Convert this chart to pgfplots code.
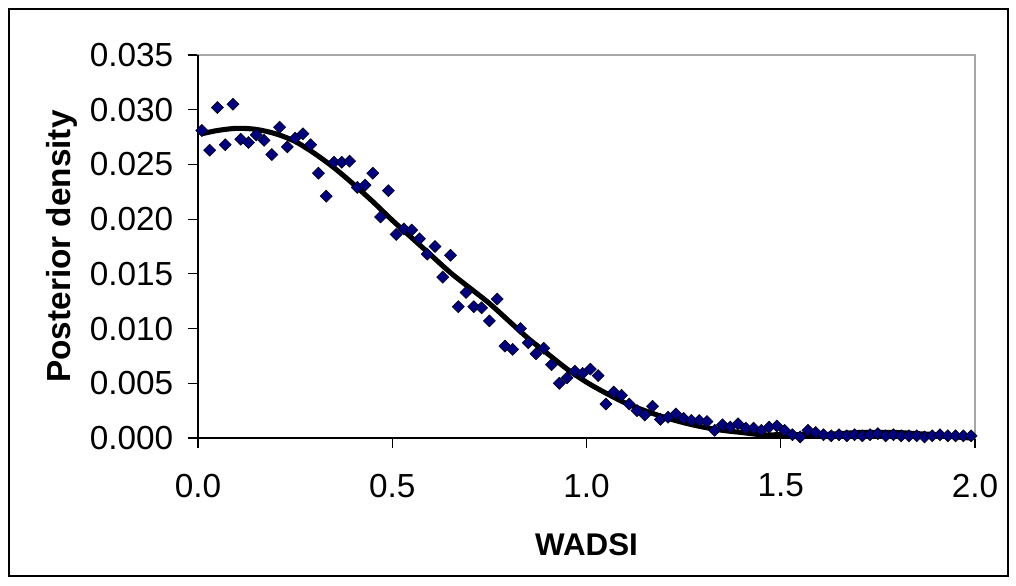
\documentclass[border=0pt]{standalone}
\usepackage{pgfplots}
\pgfplotsset{compat=1.18}
\usepackage{fontspec}
\setmainfont{Liberation Sans}
\definecolor{navy}{RGB}{0,0,128}
\begin{document}
\begin{tikzpicture}
\path[use as bounding box] (0pt,0pt) rectangle (762pt,438.75pt);
\draw[black, line width=1pt] (6.75pt,6.75pt) rectangle (756pt,432pt);
\begin{axis}[
  at={(148.5pt,110.25pt)}, anchor=south west,
  scale only axis, width=582.75pt, height=287.25pt,
  xmin=0, xmax=2, ymin=0, ymax=0.035,
  clip=false,
  axis line style={draw=gray!70, line width=1.2pt},
  xtick={0,0.5,1,1.5,2},
  ytick={0,0.005,0.01,0.015,0.02,0.025,0.03,0.035},
  tick align=outside, tick pos=left,
  major tick length=7.5pt,
  tick style={black, line width=0.9pt},
  scaled y ticks=false,
  /pgf/number format/assume math mode=true,
  xticklabel style={/pgf/number format/.cd, fixed, fixed zerofill, precision=1, /tikz/.cd, yshift=-16pt},
  yticklabel style={/pgf/number format/.cd, fixed, fixed zerofill, precision=3, /tikz/.cd, xshift=-7.5pt},
  ticklabel style={font=\fontsize{25}{29}\selectfont},
  xlabel={\textbf{WADSI}},
  ylabel={\textbf{Posterior density}},
  xlabel style={font=\fontsize{23.5}{27}\selectfont, at={(axis description cs:0.5,-0.2794)}, anchor=center},
  ylabel style={font=\fontsize{25}{29}\selectfont, at={(axis description cs:-0.175,0.5)}, anchor=center},
]
\draw[black, line width=1pt] (axis cs:0,0.035) -- (axis cs:0,0) -- (axis cs:2,0);
\addplot[only marks, mark=square*, mark size=3.2pt, mark options={rotate=45, fill=navy, draw=none}] coordinates {
(0.01,0.0281) (0.03,0.0263) (0.05,0.0302) (0.07,0.0268) (0.09,0.0305)
(0.11,0.0273) (0.13,0.0270) (0.15,0.0277) (0.17,0.0272) (0.19,0.0259)
(0.21,0.0284) (0.23,0.0266) (0.25,0.0274) (0.27,0.0278) (0.29,0.0268)
(0.31,0.0242) (0.33,0.0221) (0.35,0.0252) (0.37,0.0252) (0.39,0.0253)
(0.41,0.0229) (0.43,0.0231) (0.45,0.0242) (0.47,0.0202) (0.49,0.0226)
(0.51,0.0186) (0.53,0.0191) (0.55,0.0190) (0.57,0.0182) (0.59,0.0168)
(0.61,0.0175) (0.63,0.0147) (0.65,0.0167) (0.67,0.0120) (0.69,0.0133)
(0.71,0.0120) (0.73,0.0119) (0.75,0.0107) (0.77,0.0127) (0.79,0.0084)
(0.81,0.0081) (0.83,0.0100) (0.85,0.0087) (0.87,0.0077) (0.89,0.0082)
(0.91,0.0067) (0.93,0.0050) (0.95,0.0055) (0.97,0.0061) (0.99,0.0059)
(1.01,0.0063) (1.03,0.0057) (1.05,0.0031) (1.07,0.0042) (1.09,0.0039)
(1.11,0.0031) (1.13,0.0025) (1.15,0.0021) (1.17,0.0029) (1.19,0.0017)
(1.21,0.0019) (1.23,0.0022) (1.25,0.0018) (1.27,0.0016) (1.29,0.0016)
(1.31,0.0015) (1.33,0.0007) (1.35,0.0012) (1.37,0.0010) (1.39,0.0013)
(1.41,0.0009) (1.43,0.0009) (1.45,0.0007) (1.47,0.0010) (1.49,0.0011)
(1.51,0.0007) (1.53,0.0003) (1.55,0.0001) (1.57,0.0007) (1.59,0.0005)
(1.61,0.0003) (1.63,0.0002) (1.65,0.0003) (1.67,0.0002) (1.69,0.0003)
(1.71,0.0002) (1.73,0.0003) (1.75,0.0004) (1.77,0.0002) (1.79,0.0003)
(1.81,0.0002) (1.83,0.0002) (1.85,0.0002) (1.87,0.0001) (1.89,0.0002)
(1.91,0.0003) (1.93,0.0002) (1.95,0.0002) (1.97,0.0002) (1.99,0.0002)
};
\addplot[black, line width=3.8pt, smooth, no marks] coordinates {
(0.01,0.0278) (0.05,0.0281) (0.10,0.0283) (0.15,0.0282) (0.20,0.0278)
(0.25,0.0271) (0.30,0.0260) (0.35,0.0247) (0.40,0.0232) (0.45,0.0216)
(0.50,0.0199) (0.55,0.0183) (0.60,0.0167) (0.65,0.0151) (0.70,0.0137)
(0.75,0.0123) (0.80,0.0107) (0.85,0.0091) (0.90,0.0077) (0.95,0.0063)
(1.00,0.0051) (1.05,0.0041) (1.10,0.0032) (1.15,0.0025) (1.20,0.0019)
(1.25,0.0014) (1.30,0.0010) (1.35,0.0007) (1.40,0.0005) (1.45,0.0003)
(1.50,0.0003) (1.55,0.0003) (1.60,0.0003) (1.65,0.0004) (1.70,0.0005)
(1.75,0.0005) (1.80,0.0005) (1.85,0.0004) (1.90,0.0003) (1.95,0.0001)
(1.99,0.0000)
};
\end{axis}
\end{tikzpicture}
\end{document}
